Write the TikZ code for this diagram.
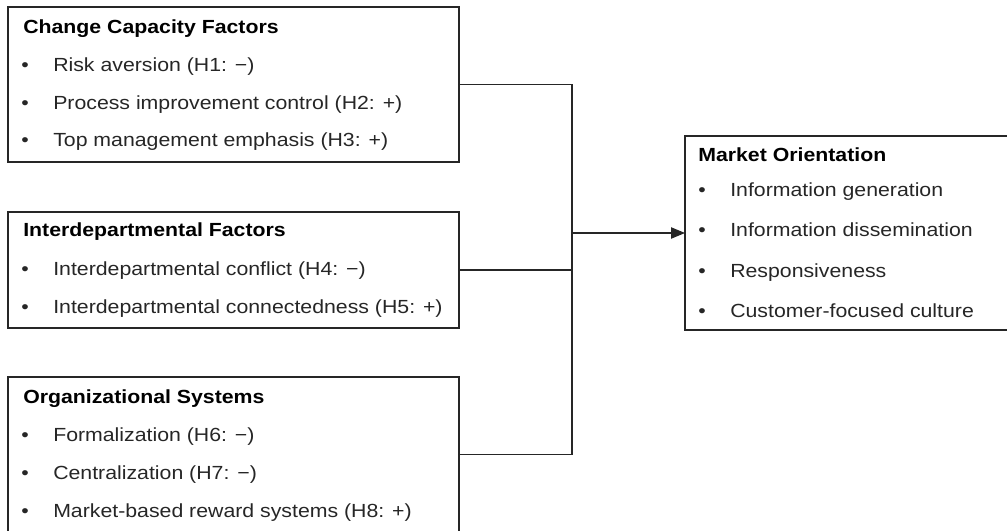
\documentclass[tikz,border=0pt]{standalone}
\usepackage{fontspec}
\setmainfont{Liberation Sans}[FakeStretch=1.12]
\usetikzlibrary{arrows.meta}
\begin{document}
\begin{tikzpicture}[x=0.75pt,y=-0.75pt,
  box/.style={draw=black!85, line width=0.9pt, anchor=north west, inner sep=0pt, outer sep=0pt},
  ttl/.style={anchor=base west, inner sep=0pt, text=black, font=\fontsize{14.25pt}{17pt}\selectfont\bfseries},
  itm/.style={anchor=base west, inner sep=0pt, text=black!85, font=\fontsize{14.25pt}{17pt}\selectfont},
  link/.style={draw=black!85, line width=0.9pt}]
\clip (0,0) rectangle (1007,531);
% boxes
\node[box, minimum width=338.25pt, minimum height=116.25pt] (b1) at (8,7) {};
\node[box, minimum width=338.25pt, minimum height=87pt] (b2) at (8,212) {};
\node[box, minimum width=338.25pt, minimum height=116.25pt] (b3) at (8,377) {};
\node[box, minimum width=243.75pt, minimum height=145.5pt] (mo) at (685,136) {};
% box 1 text
\node[ttl] (t1) at (23,34) {Change Capacity Factors};
\node[itm] (u11) at (21,72) {\textbullet};
\node[itm] (i11) at (53,72) {Risk aversion (H1: −)};
\node[itm] (u12) at (21,110) {\textbullet};
\node[itm] (i12) at (53,110) {Process improvement control (H2: +)};
\node[itm] (u13) at (21,147) {\textbullet};
\node[itm] (i13) at (53,147) {Top management emphasis (H3: +)};
% box 2 text
\node[ttl] (t2) at (23,237) {Interdepartmental Factors};
\node[itm] (u21) at (21,275) {\textbullet};
\node[itm] (i21) at (53,275) {Interdepartmental conflict (H4: −)};
\node[itm] (u22) at (21,313) {\textbullet};
\node[itm] (i22) at (53,313) {Interdepartmental connectedness (H5: +)};
% box 3 text
\node[ttl] (t3) at (23,403) {Organizational Systems};
\node[itm] (u31) at (21,441) {\textbullet};
\node[itm] (i31) at (53,441) {Formalization (H6: −)};
\node[itm] (u32) at (21,479) {\textbullet};
\node[itm] (i32) at (53,479) {Centralization (H7: −)};
\node[itm] (u33) at (21,517) {\textbullet};
\node[itm] (i33) at (53,517) {Market-based reward systems (H8: +)};
% market orientation text
\node[ttl] (t4) at (698,162) {Market Orientation};
\node[itm] (u41) at (698,197) {\textbullet};
\node[itm] (i41) at (730,197) {Information generation};
\node[itm] (u42) at (698,237) {\textbullet};
\node[itm] (i42) at (730,237) {Information dissemination};
\node[itm] (u43) at (698,277) {\textbullet};
\node[itm] (i43) at (730,277) {Responsiveness};
\node[itm] (u44) at (698,317) {\textbullet};
\node[itm] (i44) at (730,317) {Customer-focused culture};
% connectors
\coordinate (jx) at (572,233);
\draw[link] (b1.east) -- (b1.east -| jx) -- (b3.east -| jx) -- (b3.east);
\draw[link] (b2.east) -- (b2.east -| jx);
\draw[link, -{Triangle[length=10.5pt,width=8.5pt]}] (jx |- mo.west) -- (mo.west);
\end{tikzpicture}
\end{document}
